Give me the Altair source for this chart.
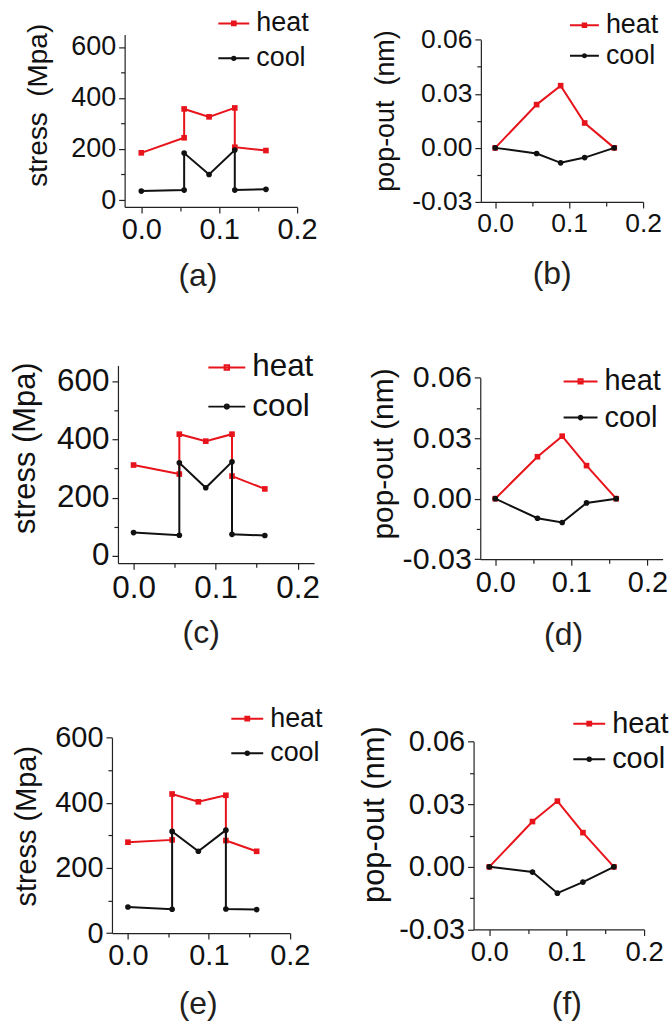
import altair as alt
import pandas as pd

FONT = "Liberation Sans"
RED = "#e8141c"
BLK = "#111111"
SERIES = ["heat", "cool"]

# ---------------- data ----------------
a_x = [0.0, 0.055, 0.055, 0.087, 0.12, 0.12, 0.16]
a_heat = [185, 244, 357, 326, 361, 207, 194]
a_cool = [35, 39, 184, 100, 196, 39, 42]

b_x = [0.0, 0.056, 0.0885, 0.121, 0.161]
b_heat = [0.0, 0.024, 0.0345, 0.0138, 0.0]
b_cool = [0.0, -0.0031, -0.0083, -0.0054, 0.0]

c_x = [0.0, 0.0558, 0.0558, 0.088, 0.12, 0.12, 0.16]
c_heat = [312, 281, 418, 394, 418, 274, 230]
c_cool = [80, 71, 320, 234, 323, 74, 70]

d_x = [0.0, 0.0555, 0.088, 0.12, 0.159]
d_heat = [0.0, 0.0208, 0.031, 0.0164, 0.0]
d_cool = [0.0, -0.0097, -0.0118, -0.0021, 0.0]

e_x = [0.0, 0.0546, 0.0546, 0.087, 0.121, 0.121, 0.159]
e_heat = [279, 286, 427, 403, 423, 284, 251]
e_cool = [80, 73, 312, 251, 316, 74, 72]

f_x = [0.0, 0.0558, 0.088, 0.121, 0.161]
f_heat = [0.0, 0.0217, 0.0315, 0.0164, 0.0]
f_cool = [0.0, -0.0025, -0.0126, -0.0073, 0.0]

x_ticks = [0.0, 0.05, 0.1, 0.15, 0.2]
stress_ticks = [0, 100, 200, 300, 400, 500, 600]
pop_ticks = [-0.03, -0.015, 0.0, 0.015, 0.03, 0.045, 0.06]

XMAJ = "abs(datum.value*10 - round(datum.value*10)) < 1e-6"
SMAJ = "datum.value % 200 == 0"
PMAJ = "abs(datum.value/0.03 - round(datum.value/0.03)) < 1e-6"

X_LABEL = f"({XMAJ}) ? format(datum.value, '.1f') : ''"
S_LABEL = f"({SMAJ}) ? format(datum.value, 'd') : ''"
P_LABEL = (f"({PMAJ}) ? (datum.value < -1e-9 ? '-' + format(-datum.value, '.2f') "
           f": format(abs(datum.value), '.2f')) : ''")

# legend glyphs: a short line with the series marker in its middle
HEAT_PATH = "M-1,0H1M-0.12,-0.12H0.12V0.12H-0.12Z"
COOL_PATH = "M-1,0H1M0.11,0A0.11,0.11,0,1,1,-0.11,0A0.11,0.11,0,1,1,0.11,0Z"

# every panel lives in an equal-sized cell of a 2 x 3 grid
CW, CH = 334, 343


def panel(xs, heat, cool, p):
    rows = []
    for s, ys in (("heat", heat), ("cool", cool)):
        for i, (xv, yv) in enumerate(zip(xs, ys)):
            rows.append({"x": xv, "y": yv, "series": s, "idx": i})
    df = pd.DataFrame(rows)

    L, T, w, h = p["L"], p["T"], p["w"], p["h"]
    bottom_gap = CH - (T + h)

    xaxis = alt.Axis(
        values=x_ticks, labelExpr=X_LABEL, labelFont=FONT, labelFontSize=p["xlfs"],
        labelColor="#111", labelPadding=3, labelFlush=False, labelOverlap=False,
        tickSize={"condition": {"test": XMAJ, "value": 6}, "value": 4},
        tickColor="#222", tickWidth=1.2, domainColor="#222", domainWidth=1.2, grid=False,
        offset=-bottom_gap,
        title=p["lab"], titleFont=FONT, titleFontSize=32, titleFontWeight="normal",
        titleColor="#231f20", titleX=p["labx"] + L, titleY=p["laby"], titleAlign="center",
        titleBaseline="alphabetic", titleAngle=0,
    )
    if p["kind"] == "stress":
        yvals, ylab, ymaj = stress_ticks, S_LABEL, SMAJ
    else:
        yvals, ylab, ymaj = pop_ticks, P_LABEL, PMAJ
    yaxis = alt.Axis(
        values=yvals, labelExpr=ylab, labelFont=FONT, labelFontSize=p["ylfs"],
        labelColor="#111", labelPadding=3, labelOverlap=False, labelFlush=False,
        tickSize={"condition": {"test": ymaj, "value": 6}, "value": 4},
        tickColor="#222", tickWidth=1.2, domainColor="#222", domainWidth=1.2, grid=False,
        offset=-L,
        title=p["ytitle"], titleFont=FONT, titleFontSize=p["ytfs"], titleFontWeight="normal",
        titleColor="#111", titleX=p["ytx"], titleY=p["yty"] + T, titleAlign="center",
        titleBaseline="bottom", titleAngle=270,
    )
    S = p["legL"]
    leg = alt.Legend(
        title=None, orient="none", legendX=p["legx"] + L, legendY=p["legy"] + T, padding=0,
        labelFont=FONT, labelFontSize=p["legfs"], labelColor="#111", labelOffset=6,
        symbolSize=S * S, rowPadding=p["legrp"], symbolStrokeWidth=2, symbolOpacity=1,
    )
    xenc = alt.X("x:Q", scale=alt.Scale(domain=p["xdom"], range=[L, L + w], nice=False, zero=False),
                 axis=xaxis)
    yenc = alt.Y("y:Q", scale=alt.Scale(domain=p["ydom"], range=[T + h, T], nice=False, zero=False),
                 axis=yaxis)
    color_l = alt.Color("series:N", scale=alt.Scale(domain=SERIES, range=[RED, BLK]), legend=leg)
    shape_l = alt.Shape("series:N", scale=alt.Scale(domain=SERIES, range=[HEAT_PATH, COOL_PATH]),
                        legend=leg)

    layers = []
    for s, mshape, col in (("heat", "square", RED), ("cool", "circle", BLK)):
        base = alt.Chart(df).transform_filter(alt.datum.series == s)
        layers.append(base.mark_line(strokeWidth=2, color=col).encode(x=xenc, y=yenc, order="idx:Q"))
        layers.append(base.mark_point(filled=True, size=32, opacity=1, shape=mshape, color=col).encode(
            x=xenc, y=yenc))
    # invisible layer that only carries the legend (line + marker glyphs)
    layers.append(alt.Chart(df).mark_point(filled=False, opacity=0, strokeWidth=2).encode(
        x=xenc, y=yenc, color=color_l, shape=shape_l))
    return alt.layer(*layers).properties(width=CW, height=CH)


# L, T: plot-area offset inside the panel cell; w, h: plot-area size
PA = dict(L=125, T=33, w=173, h=173, xdom=[-0.0214, 0.2], ydom=[-27, 649], kind="stress",
          ytitle="stress\u00a0 (Mpa)", ytfs=28, ytx=-72, yty=70.5, ylfs=27, xlfs=29,
          lab="(a)", labx=73, laby=78.5, legx=93, legy=-27.5, legL=31, legfs=27, legrp=5)
PB = dict(L=148.3, T=38.3, w=162.7, h=162.7, xdom=[-0.0194, 0.2], ydom=[-0.03, 0.06], kind="pop",
          ytitle="pop-out\u00a0 (nm)", ytfs=27, ytx=-82, yty=71, ylfs=26.5, xlfs=26.5,
          lab="(b)", labx=71, laby=82, legx=88.4, legy=-30, legL=29, legfs=27, legrp=1.6)
PC = dict(L=118.3, T=22, w=196.7, h=198.3, xdom=[-0.019, 0.22], ydom=[-25, 654], kind="stress",
          ytitle="stress (Mpa)", ytfs=31, ytx=-76.6, yty=82.5, ylfs=31.5, xlfs=31.5,
          lab="(c)", labx=83, laby=80, legx=89.7, legy=-17.5, legL=37, legfs=31.5, legrp=4.3)
PD = dict(L=147.7, T=34.3, w=182.9, h=182, xdom=[-0.0197, 0.22], ydom=[-0.03, 0.06], kind="pop",
          ytitle="pop-out (nm)", ytfs=30, ytx=-81.7, yty=76, ylfs=30.5, xlfs=29,
          lab="(d)", labx=83, laby=86, legx=82.6, legy=-14.3, legL=34, legfs=29, legrp=3.3)
PE = dict(L=112.3, T=52.3, w=178.4, h=196, xdom=[-0.0197, 0.2], ydom=[0, 600], kind="stress",
          ytitle="stress (Mpa)", ytfs=29, ytx=-70.6, yty=88.4, ylfs=29, xlfs=29,
          lab="(e)", labx=86, laby=81, legx=118.7, legy=-36, legL=32, legfs=27, legrp=4.7)
PF = dict(L=141, T=56.3, w=171, h=188.4, xdom=[-0.0203, 0.2], ydom=[-0.03, 0.06], kind="pop",
          ytitle="pop-out (nm)", ytfs=31, ytx=-83.3, yty=72.7, ylfs=29, xlfs=27.6,
          lab="(f)", labx=93, laby=84, legx=99, legy=-35, legL=32, legfs=29, legrp=3.7)

items = [
    panel(a_x, a_heat, a_cool, PA), panel(b_x, b_heat, b_cool, PB),
    panel(c_x, c_heat, c_cool, PC), panel(d_x, d_heat, d_cool, PD),
    panel(e_x, e_heat, e_cool, PE), panel(f_x, f_heat, f_cool, PF),
]

chart = alt.concat(*items, columns=2, spacing=0, bounds="flush", padding=0
                   ).resolve_scale(color="independent", shape="independent"
                   ).resolve_legend(color="independent", shape="independent"
                   ).configure_view(stroke=None)

chart.save("out.html", embed_options={"renderer": "svg", "actions": False})
